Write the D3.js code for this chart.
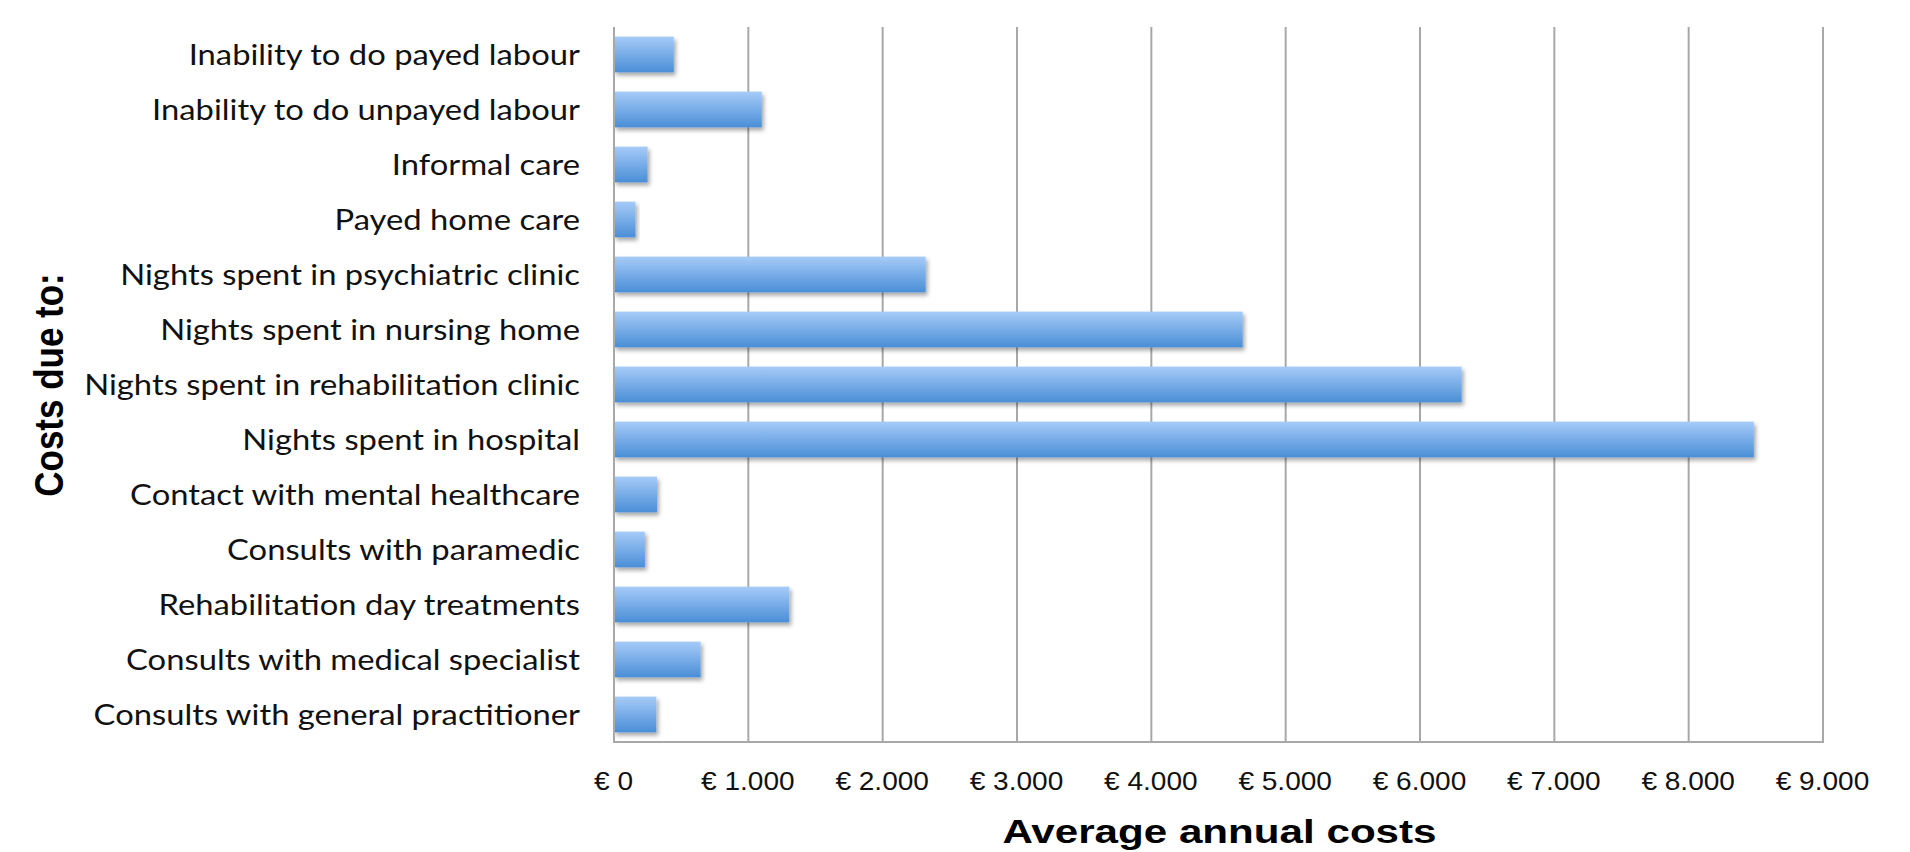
<!DOCTYPE html>
<html>
<head>
<meta charset="utf-8">
<script src="https://cdn.jsdelivr.net/npm/d3@7"></script>
<style>
  html, body { margin: 0; padding: 0; background: #ffffff; }
  svg { display: block; }
</style>
</head>
<body>
<svg id="chart" width="1910" height="852"></svg>
<script>
// ---- data ----
const categories = [
  "Inability to do payed labour",
  "Inability to do unpayed labour",
  "Informal care",
  "Payed home care",
  "Nights spent in psychiatric clinic",
  "Nights spent in nursing home",
  "Nights spent in rehabilitation clinic",
  "Nights spent in hospital",
  "Contact with mental healthcare",
  "Consults with paramedic",
  "Rehabilitation day treatments",
  "Consults with medical specialist",
  "Consults with general practitioner"
];
const costs = [445, 1100, 250, 160, 2320, 4680, 6310, 8485, 320, 230, 1305, 645, 315];
const tickValues = [0, 1000, 2000, 3000, 4000, 5000, 6000, 7000, 8000, 9000];
const tickLabels = ["€ 0", "€ 1.000", "€ 2.000", "€ 3.000", "€ 4.000", "€ 5.000", "€ 6.000", "€ 7.000", "€ 8.000", "€ 9.000"];
const xTitle = "Average annual costs";
const yTitle = "Costs due to:";

// ---- layout ----
const plot = { left: 614, right: 1823, top: 27, bottom: 742 };
const svg = d3.select("#chart");

const x = d3.scaleLinear().domain([0, 9000]).range([plot.left, plot.right]);
const y = d3.scaleBand().domain(categories).range([plot.top, plot.bottom])
  .paddingInner(0.35).paddingOuter(0.175);

const defs = svg.append("defs");
const grad = defs.append("linearGradient").attr("id", "barGrad")
  .attr("x1", 0).attr("y1", 0).attr("x2", 0).attr("y2", 1);
grad.append("stop").attr("offset", "0%").attr("stop-color", "#a6cbf8");
grad.append("stop").attr("offset", "100%").attr("stop-color", "#4a8ed7");

const shadow = defs.append("filter").attr("id", "shadow")
  .attr("x", "-10%").attr("y", "-20%").attr("width", "130%").attr("height", "170%");
shadow.append("feDropShadow").attr("dx", 2).attr("dy", 3).attr("stdDeviation", 2.2)
  .attr("flood-color", "#000").attr("flood-opacity", 0.35);

// gridlines
svg.append("g").selectAll("line")
  .data(tickValues.filter(d => d > 0))
  .join("line")
  .attr("x1", d => x(d)).attr("x2", d => x(d))
  .attr("y1", plot.top).attr("y2", plot.bottom)
  .attr("stroke", "#a8a8a8").attr("stroke-width", 2);

// bars
svg.append("g").selectAll("rect")
  .data(categories)
  .join("rect")
  .attr("x", x(0))
  .attr("y", d => y(d))
  .attr("width", (d, i) => x(costs[i]) - x(0))
  .attr("height", y.bandwidth())
  .attr("fill", "url(#barGrad)")
  .attr("filter", "url(#shadow)");

// axis lines
svg.append("line")
  .attr("x1", x(0)).attr("x2", x(0)).attr("y1", plot.top).attr("y2", plot.bottom + 1)
  .attr("stroke", "#a8a8a8").attr("stroke-width", 2);
svg.append("line")
  .attr("x1", x(0) - 1).attr("x2", plot.right + 1).attr("y1", plot.bottom).attr("y2", plot.bottom)
  .attr("stroke", "#a8a8a8").attr("stroke-width", 2);

// x tick labels via axis
const xAxis = d3.axisBottom(x).tickValues(tickValues)
  .tickFormat((d, i) => tickLabels[i]).tickSize(0).tickPadding(0);
const gx = svg.append("g").attr("transform", `translate(0,${plot.bottom})`).call(xAxis);
gx.select(".domain").remove();
gx.selectAll("text")
  .attr("font-family", "'Liberation Sans', Arial, sans-serif")
  .attr("font-size", 25.5)
  .attr("fill", "#111")
  .attr("dy", null)
  .attr("y", 0)
  .attr("transform", "translate(-1,48) scale(1.1,1)");

// category labels via axis
const yAxis = d3.axisLeft(y).tickSize(0).tickPadding(0);
const gy = svg.append("g").attr("transform", `translate(${plot.left - 34},0)`).call(yAxis);
gy.select(".domain").remove();
gy.selectAll("text")
  .attr("font-family", "Lato, 'Open Sans', sans-serif")
  .attr("font-size", 29)
  .attr("fill", "#111")
  .attr("x", 0)
  .attr("dy", "0.36em")
  .attr("transform", "scale(1.13,1)");

// axis titles
svg.append("text")
  .attr("transform", `translate(${(plot.left + plot.right) / 2 + 1},843) scale(1.24,1)`)
  .attr("text-anchor", "middle")
  .attr("font-family", "'Liberation Sans', Arial, sans-serif")
  .attr("font-weight", "bold")
  .attr("font-size", 34)
  .attr("fill", "#000")
  .text(xTitle);

svg.append("text")
  .attr("transform", `translate(63,385) rotate(-90) scale(1,1.15)`)
  .attr("text-anchor", "middle")
  .attr("font-family", "'Liberation Sans', Arial, sans-serif")
  .attr("font-weight", "bold")
  .attr("font-size", 35)
  .attr("fill", "#000")
  .text(yTitle);
</script>
</body>
</html>
